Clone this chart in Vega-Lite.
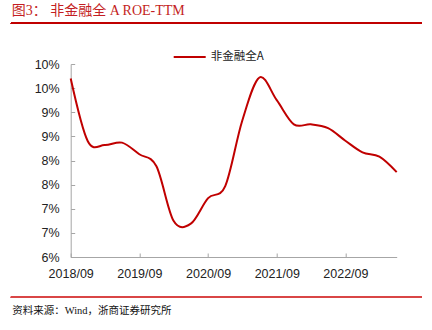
{
  "$schema": "https://vega.github.io/schema/vega-lite/v6.json",
  "autosize": {"type": "none"},
  "width": 326,
  "height": 193,
  "padding": {"left": 70.7, "top": 64, "right": 35.3, "bottom": 73},
  "background": "white",
  "title": {
    "text": "图3：   非金融全 A ROE-TTM",
    "anchor": "start",
    "frame": "group",
    "dx": -59,
    "dy": -1,
    "font": "Liberation Serif, Noto Sans CJK SC",
    "fontSize": 14,
    "fontWeight": "normal",
    "color": "#C41E23"
  },
  "data": {
    "values": [
      {"date": "2018/09/01", "roe": 9.70, "s": "非金融全A"},
      {"date": "2018/12/01", "roe": 8.40, "s": "非金融全A"},
      {"date": "2019/03/01", "roe": 8.32, "s": "非金融全A"},
      {"date": "2019/06/01", "roe": 8.37, "s": "非金融全A"},
      {"date": "2019/09/01", "roe": 8.13, "s": "非金融全A"},
      {"date": "2019/12/01", "roe": 7.88, "s": "非金融全A"},
      {"date": "2020/03/01", "roe": 6.75, "s": "非金融全A"},
      {"date": "2020/06/01", "roe": 6.69, "s": "非金融全A"},
      {"date": "2020/09/01", "roe": 7.22, "s": "非金融全A"},
      {"date": "2020/12/01", "roe": 7.47, "s": "非金融全A"},
      {"date": "2021/03/01", "roe": 8.82, "s": "非金融全A"},
      {"date": "2021/06/01", "roe": 9.72, "s": "非金融全A"},
      {"date": "2021/09/01", "roe": 9.25, "s": "非金融全A"},
      {"date": "2021/12/01", "roe": 8.75, "s": "非金融全A"},
      {"date": "2022/03/01", "roe": 8.75, "s": "非金融全A"},
      {"date": "2022/06/01", "roe": 8.67, "s": "非金融全A"},
      {"date": "2022/09/01", "roe": 8.41, "s": "非金融全A"},
      {"date": "2022/12/01", "roe": 8.17, "s": "非金融全A"},
      {"date": "2023/03/01", "roe": 8.08, "s": "非金融全A"},
      {"date": "2023/06/01", "roe": 7.76, "s": "非金融全A"}
    ]
  },
  "layer": [
    {
      "mark": {"type": "line", "interpolate": "cardinal", "strokeWidth": 2},
      "encoding": {
        "x": {
          "field": "date",
          "type": "temporal",
          "scale": {"domain": [{"year": 2018, "month": 9, "date": 1}, {"year": 2023, "month": 6, "date": 1}]},
          "axis": {
            "values": [
              {"year": 2018, "month": 9, "date": 1},
              {"year": 2019, "month": 9, "date": 1},
              {"year": 2020, "month": 9, "date": 1},
              {"year": 2021, "month": 9, "date": 1},
              {"year": 2022, "month": 9, "date": 1}
            ],
            "format": "%Y/%m",
            "title": "资料来源：Wind，浙商证券研究所",
            "titleAnchor": "start",
            "titleAlign": "left",
            "titleBaseline": "middle",
            "titleX": -59,
            "titleY": 53.5,
            "titleFont": "Liberation Serif, Noto Sans CJK SC",
            "titleFontSize": 10.5,
            "titleFontWeight": "normal",
            "titleColor": "#111",
            "labelBaseline": "top",
            "labelPadding": 14,
            "labelFlush": false,
            "labelOverlap": false
          }
        },
        "y": {
          "field": "roe",
          "type": "quantitative",
          "scale": {"domain": [6, 10], "nice": false, "zero": false},
          "axis": {
            "values": [6, 6.5, 7, 7.5, 8, 8.5, 9, 9.5, 10],
            "tickCount": 9,
            "labelExpr": "round(datum.value) + '%'",
            "labelOverlap": false,
            "labelFlush": false,
            "title": null,
            "labelPadding": 15.5
          }
        },
        "color": {
          "field": "s",
          "type": "nominal",
          "scale": {"range": ["#C00000"]},
          "legend": {
            "title": null,
            "orient": "none",
            "legendX": 102,
            "legendY": -24,
            "symbolType": "stroke",
            "symbolSize": 1024,
            "symbolStrokeWidth": 2,
            "labelFont": "Noto Sans CJK SC",
            "labelFontSize": 11.5,
            "labelColor": "#222",
            "labelOffset": 4
          }
        }
      }
    },
    {
      "mark": {"type": "rule", "color": "#C00000", "strokeWidth": 1.2, "clip": false},
      "encoding": {
        "x": {"datum": {"year": 2017, "month": 10, "date": 18}, "type": "temporal"},
        "x2": {"datum": {"year": 2023, "month": 10, "date": 12}},
        "y": {
          "datum": 10.843,
          "type": "quantitative",
          "axis": {
            "values": [6, 6.5, 7, 7.5, 8, 8.5, 9, 9.5, 10],
            "tickCount": 9,
            "labelExpr": "round(datum.value) + '%'",
            "labelOverlap": false,
            "labelFlush": false,
            "title": null,
            "labelPadding": 15.5
          }
        }
      }
    },
    {
      "mark": {"type": "rule", "color": "#D84848", "strokeWidth": 1, "clip": false},
      "encoding": {
        "x": {"datum": {"year": 2017, "month": 10, "date": 18}, "type": "temporal"},
        "x2": {"datum": {"year": 2023, "month": 10, "date": 12}},
        "y": {
          "datum": 5.165,
          "type": "quantitative",
          "axis": {
            "values": [6, 6.5, 7, 7.5, 8, 8.5, 9, 9.5, 10],
            "tickCount": 9,
            "labelExpr": "round(datum.value) + '%'",
            "labelOverlap": false,
            "labelFlush": false,
            "title": null,
            "labelPadding": 15.5
          }
        }
      }
    }
  ],
  "config": {
    "view": {"stroke": null},
    "axis": {
      "grid": false,
      "domainColor": "#A6A6A6",
      "tickColor": "#A6A6A6",
      "tickSize": -4,
      "labelFont": "Liberation Sans",
      "labelFontSize": 12.5,
      "labelColor": "#222"
    }
  }
}
